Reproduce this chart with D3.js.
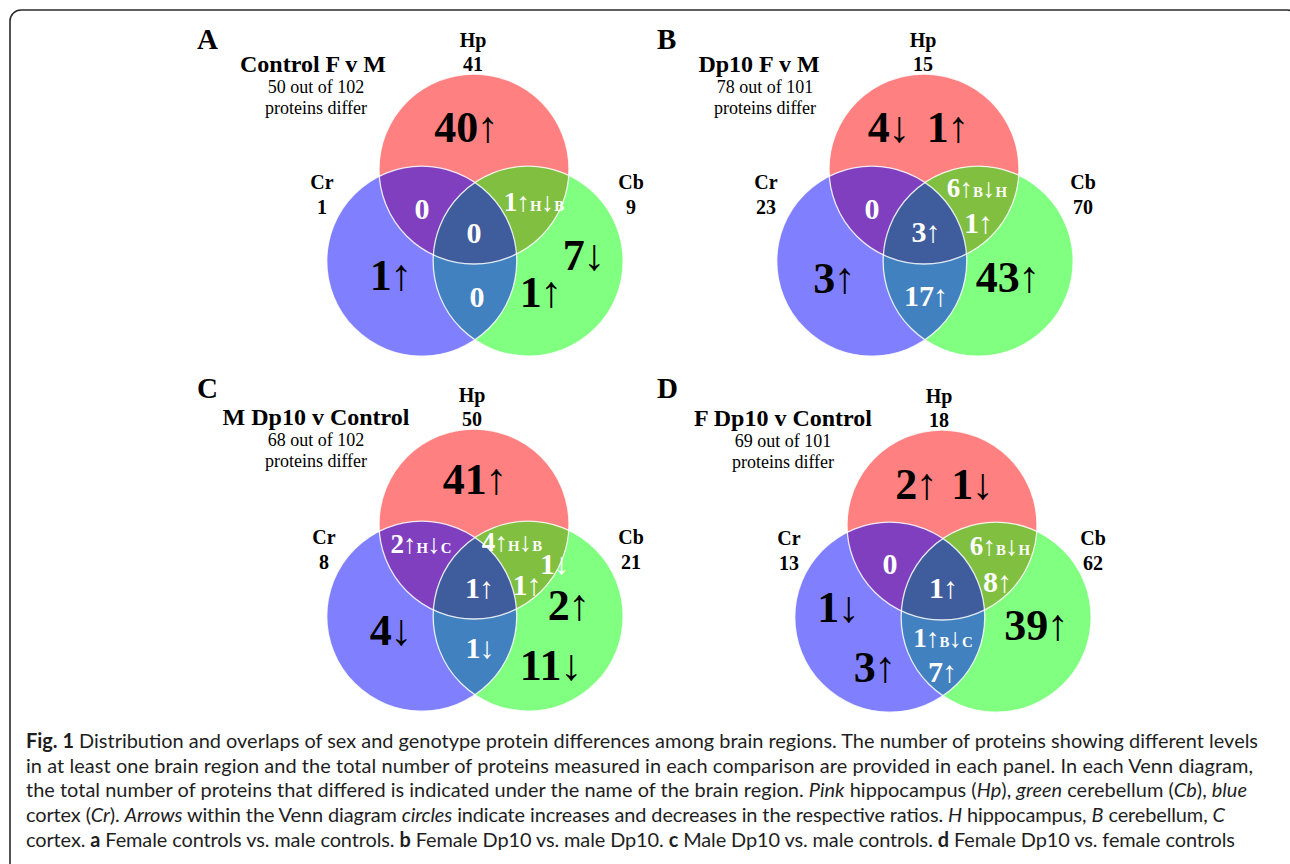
<!DOCTYPE html>
<html>
<head>
<meta charset="utf-8">
<script src="https://cdn.jsdelivr.net/npm/d3@7"></script>
<style>
  html, body { margin: 0; padding: 0; background: #fff; }
  svg { display: block; }
</style>
</head>
<body>
<svg id="fig" width="1290" height="864"></svg>
<script>
// ---- data -------------------------------------------------------------
const panelLetters = ["A", "B", "C", "D"];
const panelTitles = ["Control F v M", "Dp10 F v M", "M Dp10 v Control", "F Dp10 v Control"];
const differCounts = [50, 78, 68, 69];
const measuredCounts = [102, 101, 102, 101];
const regionNames = ["Hp", "Cr", "Cb"];
const hpTotals = [41, 15, 50, 18];
const crTotals = [1, 23, 8, 13];
const cbTotals = [9, 70, 21, 62];

// cell contents: [region, label]  (↑ increase, ↓ decrease; H/B/C = region of change)
const cellsA = [["hp", "40↑"], ["cr", "1↑"], ["cb", "7↓"], ["cb", "1↑"],
                ["hpcr", "0"], ["hpcb", "1↑H↓B"], ["all", "0"], ["crcb", "0"]];
const cellsB = [["hp", "4↓"], ["hp", "1↑"], ["hpcr", "0"], ["hpcb", "6↑B↓H"], ["hpcb", "1↑"],
                ["all", "3↑"], ["crcb", "17↑"], ["cr", "3↑"], ["cb", "43↑"]];
const cellsC = [["hp", "41↑"], ["hpcr", "2↑H↓C"], ["hpcb", "4↑H↓B"], ["hpcb", "1↓"], ["hpcb", "1↑"],
                ["all", "1↑"], ["cb", "2↑"], ["cr", "4↓"], ["crcb", "1↓"], ["cb", "11↓"]];
const cellsD = [["hp", "2↑"], ["hp", "1↓"], ["hpcr", "0"], ["hpcb", "6↑B↓H"], ["hpcb", "8↑"],
                ["all", "1↑"], ["cr", "1↓"], ["cr", "3↑"], ["crcb", "1↑B↓C"], ["crcb", "7↑"], ["cb", "39↑"]];
const panelCells = [cellsA, cellsB, cellsC, cellsD];

const captionLines = [
  [["b", "Fig. 1"], ["n", " Distribution and overlaps of sex and genotype protein differences among brain regions. The number of proteins showing different levels"]],
  [["n", "in at least one brain region and the total number of proteins measured in each comparison are provided in each panel. In each Venn diagram,"]],
  [["n", "the total number of proteins that differed is indicated under the name of the brain region. "], ["i", "Pink"], ["n", " hippocampus ("], ["i", "Hp"], ["n", "), "], ["i", "green"], ["n", " cerebellum ("], ["i", "Cb"], ["n", "), "], ["i", "blue"]],
  [["n", "cortex ("], ["i", "Cr"], ["n", "). "], ["i", "Arrows"], ["n", " within the Venn diagram "], ["i", "circles"], ["n", " indicate increases and decreases in the respective ratios. "], ["i", "H"], ["n", " hippocampus, "], ["i", "B"], ["n", " cerebellum, "], ["i", "C"]],
  [["n", "cortex. "], ["b", "a"], ["n", " Female controls vs. male controls. "], ["b", "b"], ["n", " Female Dp10 vs. male Dp10. "], ["b", "c"], ["n", " Male Dp10 vs. male controls. "], ["b", "d"], ["n", " Female Dp10 vs. female controls"]]
];

// ---- layout -----------------------------------------------------------
const panelOrigins = [[474, 169], [924, 169], [474, 524], [942, 525]]; // Hp circle centre
const circleUnits = { hp: [0, 0], cr: [-0.55, 0.97], cb: [0.57, 0.97] };
const unit = d3.scaleLinear().domain([0, 1]).range([0, 95]);

const cellPositions = [
  [[-7.5, -27], [-83, 121], [110, 101], [67, 138], [-52, 50], [60, 42], [0, 74], [3, 138]],
  [[-35, -27], [24, -27], [-52, 50], [53, 28], [54.5, 64], [2, 73], [2, 137], [-89.5, 124], [84, 123]],
  [[1, -30], [-53, 29], [38, 27], [80.5, 50], [53, 71], [5.5, 74], [95, 96], [-83, 121], [6, 134], [77, 156]],
  [[-25.5, -26], [30.5, -26], [-52, 49], [58, 30], [55.5, 67], [1.5, 73], [-103.5, 97], [-67, 157], [1, 122], [0.5, 157], [94.5, 115]]
];
const hpLabelX = [473, 923, 472, 939];
const crLabelX = [322, 766, 324, 789];
const cbLabelX = [631, 1083, 631, 1093];
const letterX = [197, 657, 197, 657];
const letterY = [49, 49, 398, 398];
const titleX = [313, 759, 316, 783];
const subX = [316, 765, 316, 783];
const titleY = [72, 72, 425, 426];

const fills = {
  hp: "#ff8080", cr: "#8080ff", cb: "#80ff80",
  hpcr: "#7f3fbf", hpcb: "#80bf40", crcb: "#4181bf", all: "#3f5c9c"
};

const serif = "'Liberation Serif', 'Times New Roman', serif";
const svg = d3.select("#fig");
svg.append("rect").attr("width", 1290).attr("height", 864).attr("fill", "#fff");

// outer frame
svg.append("rect")
  .attr("x", 10).attr("y", 10).attr("width", 1288).attr("height", 900)
  .attr("rx", 11).attr("fill", "none").attr("stroke", "#2a2a2a").attr("stroke-width", 1.6);

const defs = svg.append("defs");

function drawLabel(g, x, y, label, single) {
  const hasLetters = /[A-Z]/.test(label);
  const size = single ? 44 : (hasLetters ? 27 : 30);
  const t = g.append("text")
    .attr("x", x).attr("y", y)
    .attr("text-anchor", "middle")
    .attr("font-family", serif)
    .attr("fill", single ? "#000" : "#fff");
  const tokens = label.match(/\d+|[↑↓]|[A-Z]/g);
  tokens.forEach(tok => {
    const s = t.append("tspan").text(tok);
    if (/\d/.test(tok)) {
      s.attr("font-size", size).attr("font-weight", "bold");
    } else if (tok === "↑" || tok === "↓") {
      s.attr("font-size", size).attr("font-weight", "normal").attr("dx", -size * 0.03);
    } else {
      s.attr("font-size", size * 0.55).attr("font-weight", "bold");
    }
  });
}

panelLetters.forEach((letter, i) => {
  const [ox, oy] = panelOrigins[i];
  const g = svg.append("g");
  const pos = k => [ox + unit(circleUnits[k][0]), oy + unit(circleUnits[k][1])];
  const R = unit(1);

  ["hp", "cr", "cb"].forEach(k => {
    const [cx, cy] = pos(k);
    defs.append("clipPath").attr("id", `clip-${k}-${i}`)
      .append("circle").attr("cx", cx).attr("cy", cy).attr("r", R);
  });

  const circle = (parent, k, fill, clip) => {
    const [cx, cy] = pos(k);
    const c = parent.append("circle").attr("cx", cx).attr("cy", cy).attr("r", R).attr("fill", fill);
    if (clip) c.attr("clip-path", `url(#clip-${clip}-${i})`);
    return c;
  };

  // single regions
  circle(g, "hp", fills.hp);
  circle(g, "cr", fills.cr);
  circle(g, "cb", fills.cb);
  // pairwise overlaps
  circle(g, "cr", fills.hpcr, "hp");
  circle(g, "cb", fills.hpcb, "hp");
  circle(g, "cb", fills.crcb, "cr");
  // triple overlap
  const tg = g.append("g").attr("clip-path", `url(#clip-hp-${i})`);
  circle(tg, "cb", fills.all, "cr");
  // circle outlines
  ["hp", "cr", "cb"].forEach(k => {
    const [cx, cy] = pos(k);
    g.append("circle").attr("cx", cx).attr("cy", cy).attr("r", R)
      .attr("fill", "none").attr("stroke", "#fff").attr("stroke-width", 1.3).attr("stroke-opacity", 0.85);
  });

  // cell counts
  panelCells[i].forEach(([region, label], j) => {
    const [dx, dy] = cellPositions[i][j];
    const single = region === "hp" || region === "cr" || region === "cb";
    drawLabel(g, ox + dx, oy + dy, label, single);
  });

  // region names and totals
  const regionText = (x, y, txt) => g.append("text")
    .attr("x", x).attr("y", y).attr("text-anchor", "middle")
    .attr("font-family", serif).attr("font-weight", "bold").attr("font-size", 20)
    .text(txt);
  const crY = pos("cr")[1];
  regionText(hpLabelX[i], oy - 122, regionNames[0]);
  regionText(hpLabelX[i], oy - 98, hpTotals[i]);
  regionText(crLabelX[i], crY - 72, regionNames[1]);
  regionText(crLabelX[i], crY - 47, crTotals[i]);
  regionText(cbLabelX[i], crY - 72, regionNames[2]);
  regionText(cbLabelX[i], crY - 47, cbTotals[i]);

  // panel letter and title block
  g.append("text").attr("x", letterX[i]).attr("y", letterY[i])
    .attr("font-family", serif).attr("font-weight", "bold").attr("font-size", 29)
    .text(letter);
  g.append("text").attr("x", titleX[i]).attr("y", titleY[i]).attr("text-anchor", "middle")
    .attr("font-family", serif).attr("font-weight", "bold").attr("font-size", 24)
    .text(panelTitles[i]);
  g.append("text").attr("x", subX[i]).attr("y", titleY[i] + 21).attr("text-anchor", "middle")
    .attr("font-family", serif).attr("font-size", 18)
    .text(`${differCounts[i]} out of ${measuredCounts[i]}`);
  g.append("text").attr("x", subX[i]).attr("y", titleY[i] + 42).attr("text-anchor", "middle")
    .attr("font-family", serif).attr("font-size", 18)
    .text("proteins differ");
});

// caption
const capFont = "Lato, 'Open Sans', sans-serif";
const capLeft = 26;
const capBaselines = [748, 772.7, 797.4, 822, 846.6];
const capRight = [1258, 1253, 1247, 1225, 1235];
const capGroup = svg.append("g");
const capTexts = captionLines.map((parts, li) => {
  const t = capGroup.append("text")
    .attr("x", capLeft).attr("y", capBaselines[li])
    .attr("font-family", capFont).attr("font-size", 18).attr("fill", "#1e1e1e");
  parts.forEach(([style, str]) => {
    const s = t.append("tspan").text(str);
    if (style === "b") s.attr("font-weight", "bold");
    if (style === "i") s.attr("font-style", "italic");
  });
  return t;
});
// size the caption so its first line spans the block width
const natural = capTexts[0].node().getComputedTextLength();
const capSize = 18 * (capRight[0] - capLeft) / natural;
capTexts.forEach((t, li) => {
  t.attr("font-size", capSize)
   .attr("textLength", capRight[li] - capLeft)
   .attr("lengthAdjust", "spacing");
});
</script>
</body>
</html>
